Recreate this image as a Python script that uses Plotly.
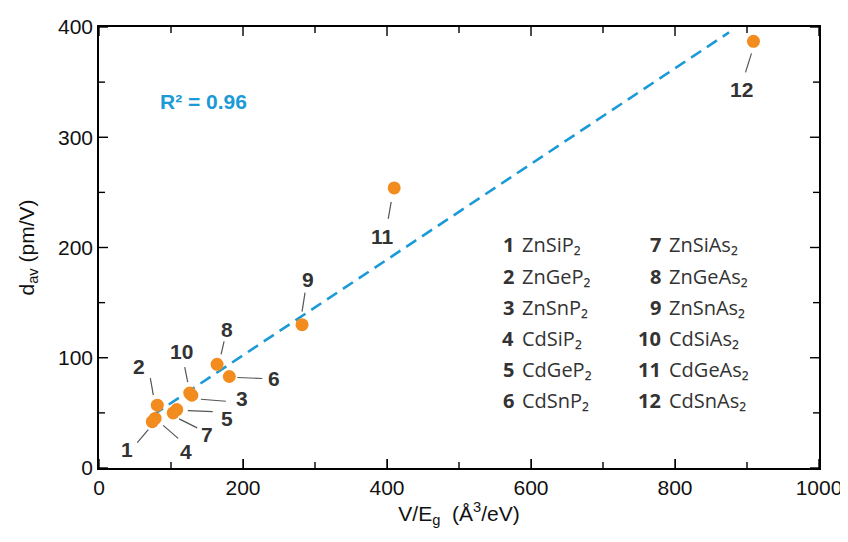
import plotly.graph_objects as go

# ---- data ----
labels = ["1", "2", "3", "4", "5", "6", "7", "8", "9", "10", "11", "12"]
compounds = ["ZnSiP₂", "ZnGeP₂", "ZnSnP₂", "CdSiP₂", "CdGeP₂", "CdSnP₂",
             "ZnSiAs₂", "ZnGeAs₂", "ZnSnAs₂", "CdSiAs₂", "CdGeAs₂", "CdSnAs₂"]
v_over_eg = [74, 81, 129, 78, 108, 181, 103, 164, 282, 126, 410, 909]
d_av = [42, 57, 66, 45, 53, 83, 50, 94, 130, 68, 254, 387]
fit_slope = 0.4338
fit_intercept = 15.5
fit_x = [75, 875]
r_squared = "0.96"
x_ticks = [0, 200, 400, 600, 800, 1000]
x_minor = [100, 300, 500, 700, 900]
y_ticks = [0, 100, 200, 300, 400]
y_minor = [50, 150, 250, 350]

# ---- styles (pixel offsets of labels and leader lines, screen coords y-down) ----
label_off = [(-25, 28), (-18, -39), (50, 3), (31, 33), (50, 9), (45, 2),
             (34, 22), (10, -35), (6, -45), (-8, -42), (-12, 49), (-12, 48)]
line_off = [((-4, 8), (-15, 21)), ((-4, -10), (-7, -27)), ((9, 4), (34, 6)),
            ((8, 7), (23, 20)), ((11, 1), (36, 2)), ((8, 1), (33, 2)),
            ((6, 6), (24, 15)), ((4, -10), (7, -23)), ((0, -13), (3, -32)),
            ((-2, -11), (-5, -26)), ((-3, 14), (-6, 31)), ((-2, 12), (-8, 31))]

ORANGE = "#F28C1E"
BLUE = "#1B9AD7"
DARK = "#333333"
FONT = "Arial, Liberation Sans, sans-serif"
LFONT = "Open Sans, Noto Sans, sans-serif"

# page has an 8px body margin: figure sized to fit the window
FIG_W, FIG_H = 840, 534
ML, MR, MT, MB = 91, 29, 19, 74
MAJ_LEN, MIN_LEN = 9, 6

fig = go.Figure()

fit_y = [fit_slope * x + fit_intercept for x in fit_x]
fig.add_trace(go.Scatter(x=fit_x, y=fit_y, mode="lines",
                         line=dict(color=BLUE, width=2.6, dash="12px,7px"),
                         hoverinfo="skip", showlegend=False))
fig.add_trace(go.Scatter(x=v_over_eg, y=d_av, mode="markers",
                         marker=dict(color=ORANGE, size=13),
                         text=compounds, showlegend=False))

for i, lab in enumerate(labels):
    (nx, ny), (fx, fy) = line_off[i]
    fig.add_shape(type="line", xref="x", yref="y",
                  xsizemode="pixel", ysizemode="pixel",
                  xanchor=v_over_eg[i], yanchor=d_av[i],
                  x0=nx, x1=fx, y0=-ny, y1=-fy,
                  line=dict(color="#555555", width=1.2))
    lx, ly = label_off[i]
    fig.add_annotation(x=v_over_eg[i], y=d_av[i], xref="x", yref="y",
                       text="<b>" + lab + "</b>", showarrow=False,
                       xshift=lx, yshift=-ly,
                       font=dict(family=FONT, size=21, color=DARK))

# inward ticks on all four sides (major + minor)
tick_line = dict(color="black", width=1.4)
for vals, ln in ((x_ticks, MAJ_LEN), (x_minor, MIN_LEN)):
    for v in vals:
        for anchor, sign in ((0, 1), (1, -1)):
            fig.add_shape(type="line", xref="x", yref="paper", ysizemode="pixel",
                          yanchor=anchor, x0=v, x1=v, y0=0, y1=sign * ln,
                          line=tick_line)
for vals, ln in ((y_ticks, MAJ_LEN), (y_minor, MIN_LEN)):
    for v in vals:
        for anchor, sign in ((0, 1), (1, -1)):
            fig.add_shape(type="line", xref="paper", yref="y", xsizemode="pixel",
                          xanchor=anchor, y0=v, y1=v, x0=0, x1=sign * ln,
                          line=tick_line)

# legend-like list (positions given in screenshot pixels)
W = FIG_W - ML - MR
H = FIG_H - MT - MB
def px(xp):
    return (xp - 8 - ML) / W
def py(yp):
    return (MT + H - (yp - 8)) / H

rows_y = [245, 276, 307, 338, 369, 400]
for i in range(12):
    col = i // 6
    r = i % 6
    num_x = 516 if col == 0 else 663
    name_x = 520 if col == 0 else 667
    fig.add_annotation(x=px(num_x), y=py(rows_y[r]), xref="paper", yref="paper",
                       xanchor="right", yanchor="middle", showarrow=False,
                       text="<b>" + labels[i] + "</b>",
                       font=dict(family=LFONT, size=20, color=DARK))
    fig.add_annotation(x=px(name_x), y=py(rows_y[r]), xref="paper", yref="paper",
                       xanchor="left", yanchor="middle", showarrow=False,
                       text=compounds[i],
                       font=dict(family=LFONT, size=20, color=DARK))

fig.add_annotation(x=px(158), y=py(101), xref="paper", yref="paper",
                   xanchor="left", yanchor="middle", showarrow=False,
                   text="<b>R² = " + r_squared + "</b>",
                   font=dict(family=FONT, size=21, color=BLUE))

axis_common = dict(showline=True, linecolor="black", linewidth=1.5, mirror=True,
                   ticks="inside", ticklen=MAJ_LEN, tickwidth=1.4, tickcolor="black",
                   showgrid=False, zeroline=False, automargin=False,
                   tickfont=dict(family=FONT, size=21, color="#111111"))

fig.update_xaxes(range=[0, 1000], tickmode="array", tickvals=x_ticks,
                 ticktext=[str(v) for v in x_ticks],
                 title=dict(text="V/E<sub>g</sub>  (Å<sup>3</sup>/eV)",
                            font=dict(family=FONT, size=21, color="#111111"), standoff=6),
                 **axis_common)
fig.update_yaxes(range=[0, 400], tickmode="array", tickvals=y_ticks,
                 ticktext=[str(v) for v in y_ticks],
                 title=dict(text="d<sub>av</sub> (pm/V)",
                            font=dict(family=FONT, size=21, color="#111111"), standoff=18),
                 **axis_common)

fig.update_layout(width=FIG_W, height=FIG_H, plot_bgcolor="white", paper_bgcolor="white",
                  margin=dict(l=ML, r=MR, t=MT, b=MB), showlegend=False)

fig.write_html("out.html")
